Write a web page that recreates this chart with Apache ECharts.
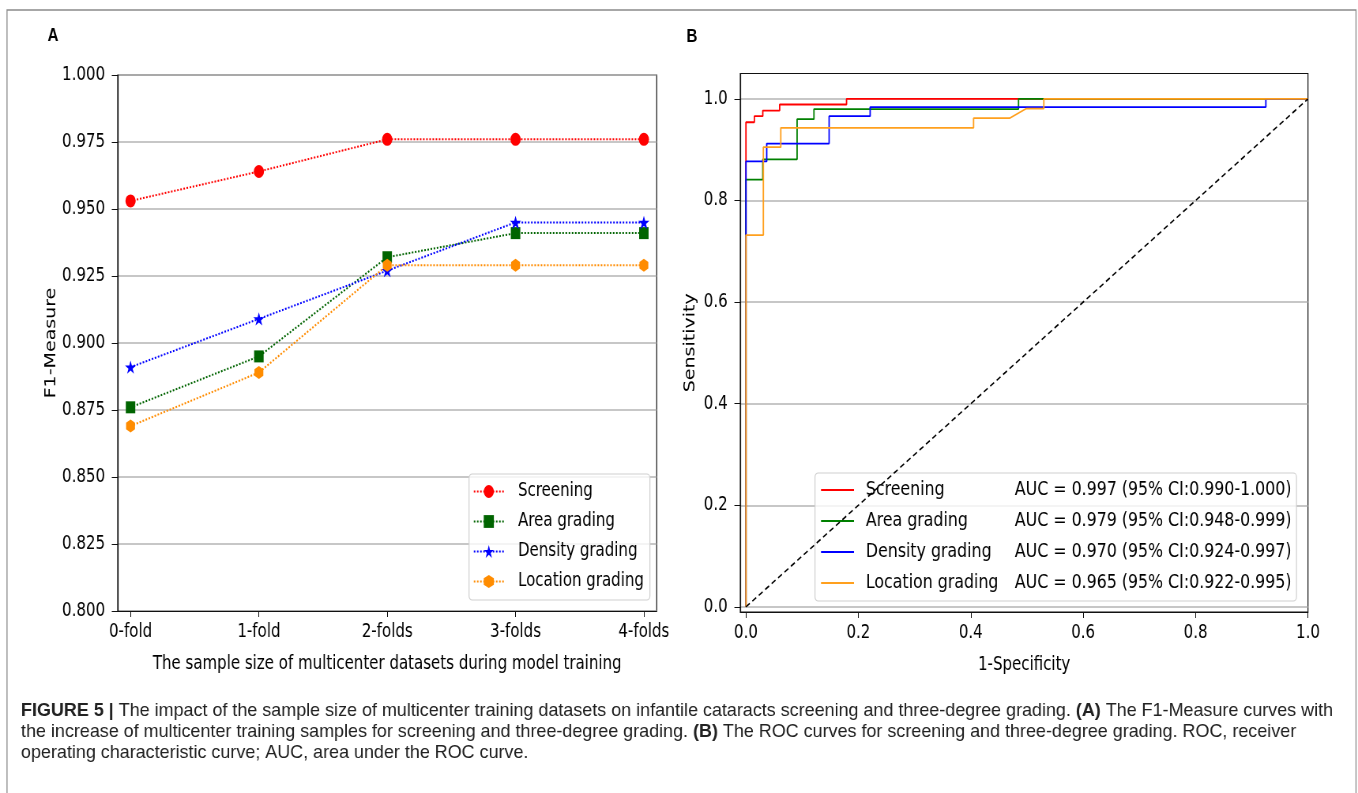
<!DOCTYPE html>
<html><head><meta charset="utf-8">
<script src="https://cdn.jsdelivr.net/npm/echarts@6/dist/echarts.min.js"></script>
<style>
html,body{margin:0;padding:0;background:#fff;overflow:hidden;width:1358px;height:793px;}
#chart{height:793px;transform-origin:0 0;}
</style></head><body><div id="chart"></div>
<script>
// ---------- data ----------
const categories = ['0-fold', '1-fold', '2-folds', '3-folds', '4-folds'];
const seriesNames = ['Screening', 'Area grading', 'Density grading', 'Location grading'];
const f1Screening = [0.953, 0.964, 0.976, 0.976, 0.976];
const f1Area      = [0.876, 0.895, 0.932, 0.941, 0.941];
const f1Density   = [0.891, 0.909, 0.927, 0.945, 0.945];
const f1Location  = [0.869, 0.889, 0.929, 0.929, 0.929];

const rocScreeningFpr = [0, 0, 0.015, 0.015, 0.030, 0.030, 0.060, 0.060, 0.179, 0.179, 1];
const rocScreeningTpr = [0, 0.954, 0.954, 0.966, 0.966, 0.977, 0.977, 0.989, 0.989, 1, 1];
const rocAreaFpr = [0, 0, 0.030, 0.030, 0.091, 0.091, 0.121, 0.121, 0.485, 0.485, 1];
const rocAreaTpr = [0, 0.841, 0.841, 0.881, 0.881, 0.960, 0.960, 0.980, 0.980, 1, 1];
const rocDensityFpr = [0, 0, 0.037, 0.037, 0.148, 0.148, 0.221, 0.221, 0.925, 0.925, 1];
const rocDensityTpr = [0, 0.877, 0.877, 0.912, 0.912, 0.966, 0.966, 0.984, 0.984, 1, 1];
const rocLocationFpr = [0, 0, 0.031, 0.031, 0.062, 0.062, 0.405, 0.405, 0.469, 0.499, 0.530, 0.530, 1];
const rocLocationTpr = [0, 0.732, 0.732, 0.905, 0.905, 0.943, 0.943, 0.962, 0.962, 0.981, 0.981, 1, 1];
const chanceLine = [0, 1];
const rocTicks = [0, 0.2, 0.4, 0.6, 0.8, 1.0];
const aucLabels = [
  'AUC = 0.997 (95% CI:0.990-1.000)',
  'AUC = 0.979 (95% CI:0.948-0.999)',
  'AUC = 0.970 (95% CI:0.924-0.997)',
  'AUC = 0.965 (95% CI:0.922-0.995)'
];
const captionLines = [
  '{b|FIGURE 5 |} The impact of the sample size of multicenter training datasets on infantile cataracts screening and three-degree grading. {b|(A)} The F1-Measure curves with',
  'the increase of multicenter training samples for screening and three-degree grading. {b|(B)} The ROC curves for screening and three-degree grading. ROC, receiver',
  'operating characteristic curve; AUC, area under the ROC curve.'
];

// ---------- layout (horizontal squeeze like the reference) ----------
const S = 0.79;
const R = v => v / S;
const el = document.getElementById('chart');
el.style.width = (1358 / S) + 'px';
el.style.transform = 'scaleX(' + S + ')';

const FONT = 'DejaVu Sans';
const txt = { fontFamily: FONT, fontSize: 19, color: '#000' };
const txtB = { fontFamily: FONT, fontSize: 20, color: '#000' };

const colorsA = ['#ff0000', '#006400', '#0000ff', '#ff8c00'];
const colorsB = ['#ff0000', '#008000', '#0000ff', '#ffa01e'];
const starPath = 'path://M0,-1L0.2234,-0.3074L0.9511,-0.309L0.3614,0.1174L0.5878,0.809L0,0.38L-0.5878,0.809L-0.3614,0.1174L-0.9511,-0.309L-0.2234,-0.3074Z';
const hexPath = 'path://M0,-1L0.866,-0.5L0.866,0.5L0,1L-0.866,0.5L-0.866,-0.5Z';
const symbolsA = ['circle', 'rect', starPath, hexPath];
const symbolSizesA = [13, 12, 14, 13];
const f1Data = [f1Screening, f1Area, f1Density, f1Location];
const rocData = [[rocScreeningFpr, rocScreeningTpr], [rocAreaFpr, rocAreaTpr], [rocDensityFpr, rocDensityTpr], [rocLocationFpr, rocLocationTpr]];
const bNames = seriesNames.map((n, i) => n + ' ' + aucLabels[i]);

const seriesA = seriesNames.map((n, k) => ({
  name: n, type: 'line', xAxisIndex: 0, yAxisIndex: 0,
  data: categories.map((c, i) => [i, f1Data[k][i]]),
  symbol: symbolsA[k], symbolSize: symbolSizesA[k], symbolKeepAspect: true,
  itemStyle: { color: colorsA[k] },
  lineStyle: { color: colorsA[k], width: 2, type: 'dotted' },
  z: 3
}));
const seriesB = bNames.map((n, k) => ({
  name: n, type: 'line', xAxisIndex: 1, yAxisIndex: 1,
  data: rocData[k][0].map((x, i) => [x, rocData[k][1][i]]),
  symbol: 'none',
  itemStyle: { color: colorsB[k] },
  lineStyle: { color: colorsB[k], width: 1.8 },
  z: 3
}));
seriesB.push({
  name: 'chance', type: 'line', xAxisIndex: 1, yAxisIndex: 1,
  data: chanceLine.map(v => [v, v]), symbol: 'none',
  lineStyle: { color: '#000', width: 1.6, type: [6, 4] }, z: 4
});

const gridA = { left: R(117.7), top: 75, width: R(539), height: 536 };
const gridB = { left: R(740.3), top: 73.5, width: R(567.7), height: 538.5 };

const captionGraphics = captionLines.map((line, i) => ({
  type: 'text', x: R(21), y: 711 + i * 21, scaleX: 1.195,
  style: {
    text: line, verticalAlign: 'middle',
    font: '19px "Liberation Sans"', fill: '#222',
    rich: { b: { fontWeight: 'bold', fontSize: 19, fontFamily: 'Liberation Sans', fill: '#222' } }
  }
}));

const option = {
  backgroundColor: '#fff',
  animation: false,
  grid: [
    Object.assign({ show: true, borderColor: '#111', borderWidth: 1.2, backgroundColor: 'transparent' }, gridA),
    Object.assign({ show: true, borderColor: '#111', borderWidth: 1.2, backgroundColor: 'transparent' }, gridB)
  ],
  xAxis: [
    {
      type: 'value', gridIndex: 0, min: -0.1, max: 4.1,
      axisLine: { show: true, onZero: false, lineStyle: { color: '#111', width: 1.2 } },
      axisTick: { show: true, length: 6, customValues: categories.map((c, i) => i), lineStyle: { color: '#111' } },
      axisLabel: { customValues: categories.map((c, i) => i), formatter: v => categories[Math.round(v)], margin: 12, ...txt },
      splitLine: { show: false },
      name: 'The sample size of multicenter datasets during model training',
      nameLocation: 'middle', nameGap: 44, nameTextStyle: txt
    },
    {
      type: 'value', gridIndex: 1, min: -0.01, max: 1.0,
      axisLine: { show: true, onZero: false, lineStyle: { color: '#111', width: 1.2 } },
      axisTick: { show: true, length: 6, customValues: rocTicks, lineStyle: { color: '#111' } },
      axisLabel: { customValues: rocTicks, formatter: v => v.toFixed(1), margin: 12, ...txt },
      splitLine: { show: false },
      name: '1-Specificity', nameLocation: 'middle', nameGap: 44, nameTextStyle: txt
    }
  ],
  yAxis: [
    {
      type: 'value', gridIndex: 0, min: 0.8, max: 1.0, interval: 0.025,
      axisLine: { show: true, onZero: false, lineStyle: { color: '#111', width: 1.2 } },
      axisTick: { show: true, length: 7.5, lineStyle: { color: '#111' } },
      axisLabel: { formatter: v => v.toFixed(3), margin: 16, ...txt },
      splitLine: { show: true, lineStyle: { color: '#b5b5b5', width: 1.5 } },
      name: 'F1-Measure', nameLocation: 'middle', nameGap: 74, nameTextStyle: txt
    },
    {
      type: 'value', gridIndex: 1, min: -0.01, max: 1.05,
      axisLine: { show: true, onZero: false, lineStyle: { color: '#111', width: 1.2 } },
      axisTick: { show: true, length: 7.5, customValues: rocTicks, lineStyle: { color: '#111' } },
      axisLabel: { customValues: rocTicks, formatter: v => v.toFixed(1), margin: 16, ...txt },
      splitLine: { show: true, lineStyle: { color: '#b5b5b5', width: 1.5 } },
      name: 'Sensitivity', nameLocation: 'middle', nameGap: 54, nameTextStyle: txt
    }
  ],
  legend: [
    {
      data: seriesNames, orient: 'vertical', left: R(469), top: 474,
      itemWidth: R(30), itemHeight: 16, itemGap: 11,
      padding: [8, R(6), 9, R(4)],
      backgroundColor: 'rgba(255,255,255,0.8)', borderColor: '#d0d0d0', borderWidth: 1.2, borderRadius: 4,
      textStyle: { ...txt, padding: [0, 0, 0, 13] },
      selectedMode: false
    },
    {
      data: bNames, orient: 'vertical', left: R(815), top: 473,
      icon: 'rect', itemWidth: R(33), itemHeight: 2, itemGap: 11,
      padding: [7, R(5), 8, R(6)],
      backgroundColor: 'rgba(255,255,255,0.8)', borderColor: '#d0d0d0', borderWidth: 1.2, borderRadius: 4,
      formatter: name => {
        const i = bNames.indexOf(name);
        return '{n|' + seriesNames[i] + '}{a|' + aucLabels[i] + '}';
      },
      textStyle: {
        ...txtB,
        rich: {
          n: { ...txtB, width: R(149), padding: [0, 0, 0, 10] },
          a: { ...txtB }
        }
      },
      selectedMode: false
    }
  ],
  graphic: [
    { type: 'rect', shape: { x: R(7), y: 10, width: R(1349), height: 800 }, style: { fill: 'none', stroke: '#8a8a8a', lineWidth: 1.3 }, silent: true },
    { type: 'text', x: R(53), y: 36, style: { text: 'A', font: 'bold 19px "Liberation Sans"', fill: '#000', align: 'center', verticalAlign: 'middle' } },
    { type: 'text', x: R(692), y: 37, style: { text: 'B', font: 'bold 19px "Liberation Sans"', fill: '#000', align: 'center', verticalAlign: 'middle' } }
  ].concat(captionGraphics),
  series: seriesA.concat(seriesB)
};

const chart = echarts.init(el, null, { renderer: 'canvas' });
chart.setOption(option);
</script>
</body></html>
